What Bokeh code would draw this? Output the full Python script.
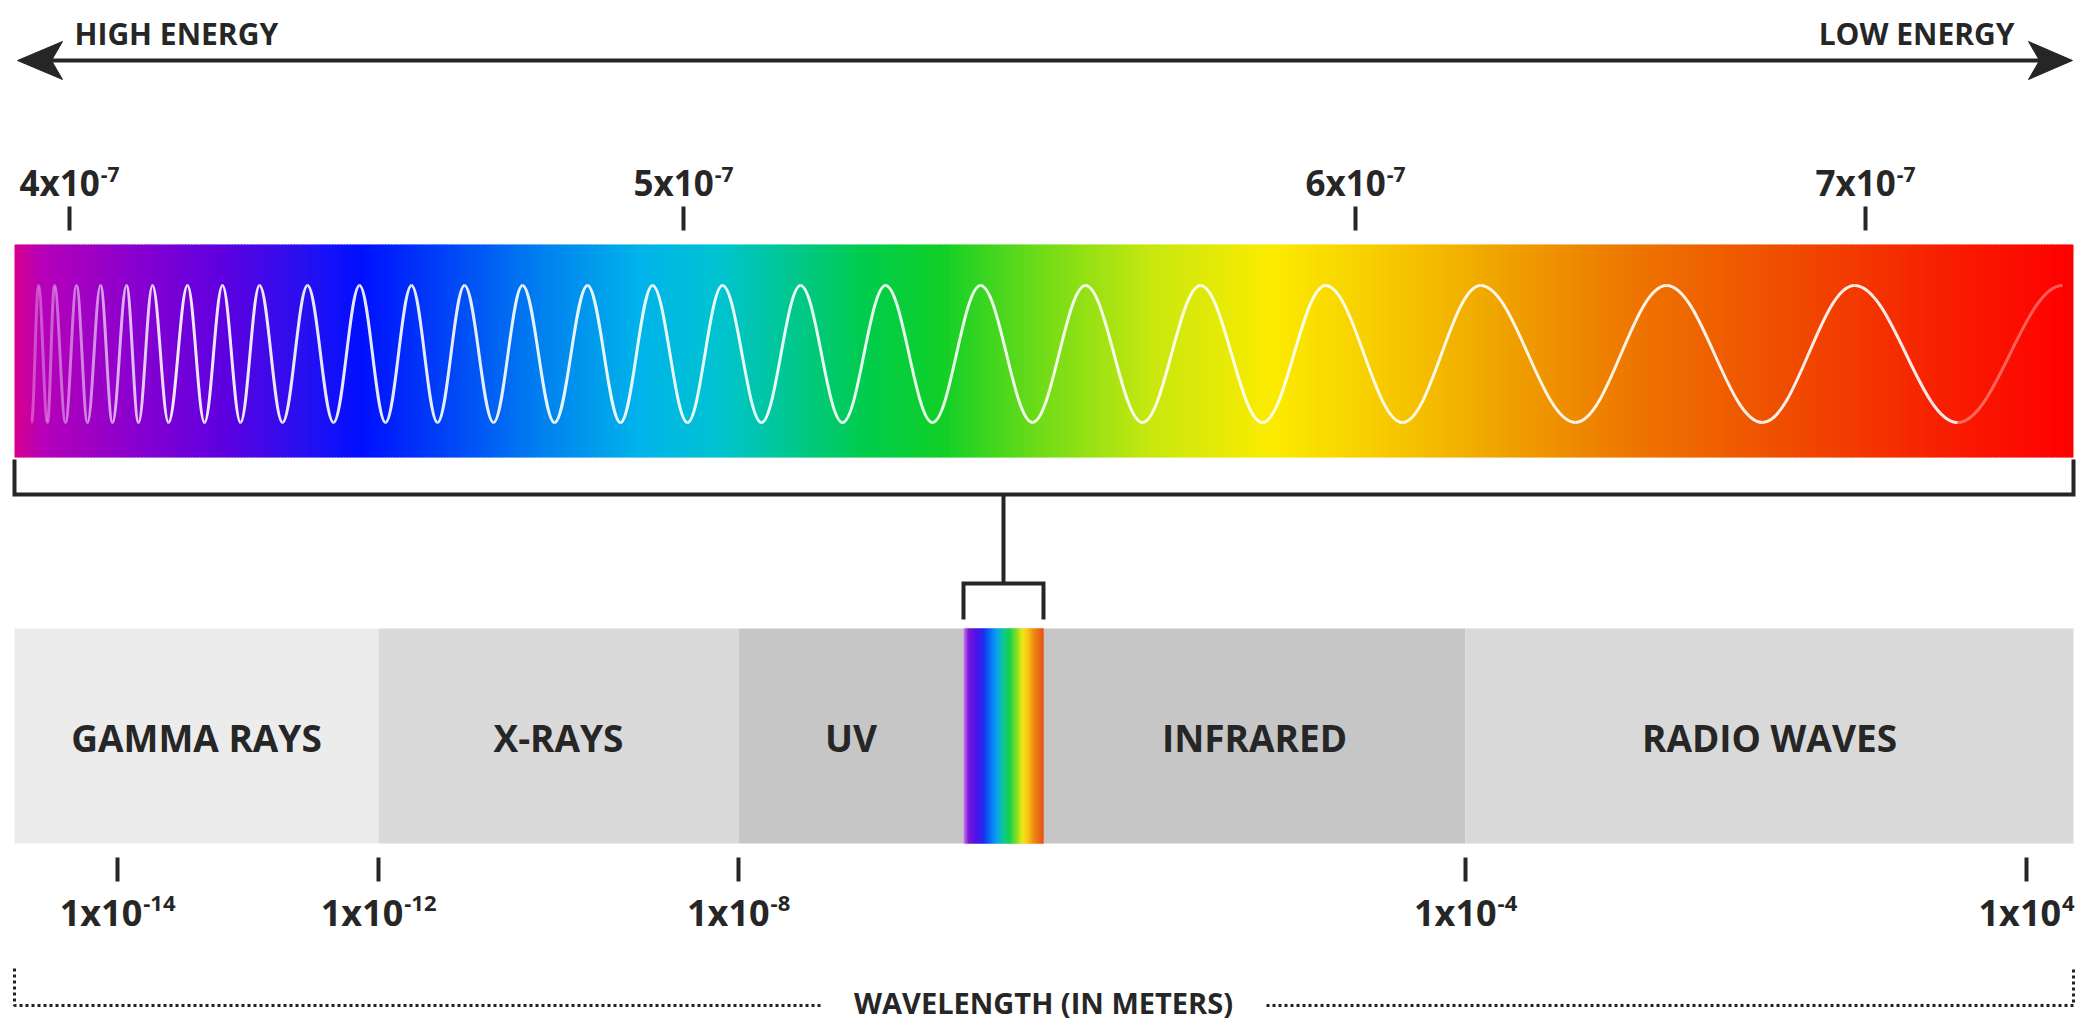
import numpy as np
from bokeh.plotting import figure
from bokeh.models import Range1d, ColumnDataSource
from bokeh.core.properties import value
from bokeh.embed import file_html
from bokeh.resources import INLINE

# ---------------- data ----------------
energy_labels = ["HIGH ENERGY", "LOW ENERGY"]
visible_mantissa = ["4", "5", "6", "7"]
visible_exponent = ["-7", "-7", "-7", "-7"]
band_names = ["GAMMA RAYS", "X-RAYS", "UV", "", "INFRARED", "RADIO WAVES"]
scale_mantissa = ["1", "1", "1", "1", "1"]
scale_exponent = ["-14", "-12", "-8", "-4", "4"]
axis_title = "WAVELENGTH (IN METERS)"
# x of successive troughs / crests of the illustrative wave (starts with a trough)
wave_extrema_x = [31, 38, 47, 54, 65, 76, 87, 100, 112, 126, 138, 152, 168, 187,
                  204, 222, 240, 259, 282, 307, 333, 359, 385, 411, 437, 464,
                  493, 522, 554, 587, 620, 652, 687, 722, 761, 800, 842, 885,
                  932, 980, 1032, 1085, 1142, 1200, 1262, 1325, 1402, 1480,
                  1575, 1666, 1762, 1854, 1957, 2062]

# ---------------- layout / style ----------------
W, H = 2087, 1023
FONT = value("Open Sans")
INK = "#262626"

visible_tick_x = [69, 683, 1355, 1865]
scale_tick_x = [117, 378, 738, 1465, 2026]
band_edges_x = [14, 378, 738, 963, 1043, 1465, 2073]
band_colors = ["#ececec", "#dadada", "#c6c6c6", "#c6c6c6", "#c6c6c6", "#d9d9d9"]

bar_x0, bar_x1, bar_y0, bar_y1 = 14, 2073, 244, 457
box_y0, box_y1 = 628, 843

spectrum_stops = [(14, "#d8008c"), (40, "#b800b8"), (120, "#9000cc"), (220, "#6000e0"),
                  (300, "#2a10f0"), (360, "#0010ff"), (440, "#0040f8"), (540, "#0080f0"),
                  (640, "#00b4ea"), (720, "#00c4d0"), (790, "#00c890"), (860, "#00cc50"),
                  (940, "#10d028"), (1040, "#70dc18"), (1150, "#c8e810"), (1270, "#fcec00"),
                  (1380, "#f8cc00"), (1500, "#f0a400"), (1640, "#ee7400"), (1790, "#f04c00"),
                  (1940, "#f82000"), (2073, "#ff0000")]
strip_stops = [(963, "#d080f0"), (968, "#7418d8"), (976, "#5010e8"), (983, "#1a30f0"),
               (990, "#0870f4"), (996, "#08a0f0"), (1003, "#10c890"), (1009, "#14d050"),
               (1016, "#80e020"), (1022, "#f0e818"), (1028, "#f8c010"), (1033, "#f08c10"),
               (1043, "#e8501a")]


def hex_rgb(h):
    h = h.lstrip("#")
    return [int(h[i:i + 2], 16) for i in (0, 2, 4)]


def gradient_source(stops, x0, x1, n, y0, y1):
    xs = np.linspace(x0, x1, n + 1)
    mids = (xs[:-1] + xs[1:]) / 2
    pos = [s[0] for s in stops]
    rgb = np.array([hex_rgb(s[1]) for s in stops], dtype=float)
    chans = [np.interp(mids, pos, rgb[:, k]) for k in range(3)]
    cols = ["#%02x%02x%02x" % (int(r), int(g), int(b)) for r, g, b in zip(*chans)]
    right = np.minimum(xs[1:] + 1.0, x1)
    return ColumnDataSource(dict(left=xs[:-1], right=right, top=[y0] * n,
                                 bottom=[y1] * n, color=cols))


p = figure(width=W, height=H, output_backend="svg", toolbar_location=None,
           x_range=Range1d(0, W), y_range=Range1d(H, 0),
           x_axis_type=None, y_axis_type=None, min_border=0,
           background_fill_color="white", border_fill_color="white")
p.outline_line_color = None
p.grid.visible = False

# ---- energy arrow ----
arrow_y = 60
p.segment(x0=[50], y0=[arrow_y], x1=[2040], y1=[arrow_y], line_color=INK, line_width=4)
p.patches(xs=[[17, 62, 51, 62], [2072, 2028, 2039, 2028]],
          ys=[[arrow_y, arrow_y - 19, arrow_y, arrow_y + 19]] * 2,
          fill_color=INK, line_color=INK, line_width=1)
p.text(x=[74, 2014], y=[33, 33], text=energy_labels, text_align=["left", "right"],
       text_baseline="middle", text_font=FONT, text_font_style="bold",
       text_font_size="30px", text_color=INK)

# ---- tick label helper (mantissa x 10 + superscript) ----
def sci_labels(ticks, mant, expo, mid_y, size, sup_size):
    base_w = 2.27 * size
    anchors = []
    for e in expo:
        sup_w = sum(0.32 if c == "-" else 0.572 for c in e) * sup_size
        anchors.append((base_w - sup_w) / 2)
    ax = [t + a for t, a in zip(ticks, anchors)]
    p.text(x=ax, y=[mid_y] * len(ax), text=[m + "x10" for m in mant],
           text_align="right", text_baseline="middle", text_font=FONT,
           text_font_style="bold", text_font_size=f"{size}px", text_color=INK)
    p.text(x=[a + 1 for a in ax], y=[mid_y - 0.24 * size] * len(ax), text=expo,
           text_align="left", text_baseline="middle", text_font=FONT,
           text_font_style="bold", text_font_size=f"{sup_size}px", text_color=INK)

# top (visible-light) scale
sci_labels(visible_tick_x, visible_mantissa, visible_exponent, 182, 35, 21)
p.segment(x0=visible_tick_x, y0=[206] * 4, x1=visible_tick_x, y1=[230] * 4,
          line_color=INK, line_width=4)

# ---- visible spectrum bar ----
g = gradient_source(spectrum_stops, bar_x0, bar_x1, 700, bar_y0, bar_y1)
p.quad(left="left", right="right", top="top", bottom="bottom", fill_color="color",
       line_color=None, source=g)

# wave drawn as cubic bezier half-cycles between troughs and crests
ex = np.array(wave_extrema_x, dtype=float)
wave_top, wave_bot = 285, 422
ey = np.array([wave_bot if i % 2 == 0 else wave_top for i in range(len(ex))], dtype=float)
k = 1 - 2 / np.pi
dx = ex[1:] - ex[:-1]
alpha = np.clip(0.3 + 0.6 * (ex[:-1] - 31) / 130.0, 0.3, 0.9)
alpha[-1] = 0.35
p.bezier(x0=ex[:-1], y0=ey[:-1], x1=ex[1:], y1=ey[1:],
         cx0=ex[:-1] + k * dx, cy0=ey[:-1], cx1=ex[1:] - k * dx, cy1=ey[1:],
         line_color="white", line_width=3, line_alpha=alpha)

# big bracket under the bar
br_y = 494
p.multi_line(xs=[[bar_x0, bar_x0, bar_x1, bar_x1]], ys=[[bar_y1 + 2, br_y, br_y, bar_y1 + 2]],
             line_color=INK, line_width=4, line_join="miter")
conn_x = 1003
p.segment(x0=[conn_x], y0=[br_y], x1=[conn_x], y1=[583], line_color=INK, line_width=4)
p.multi_line(xs=[[963, 963, 1043, 1043]], ys=[[619, 583, 583, 619]],
             line_color=INK, line_width=4, line_join="miter")

# ---- bands ----
p.quad(left=band_edges_x[:-1], right=band_edges_x[1:], top=[box_y0] * 6,
       bottom=[box_y1] * 6, fill_color=band_colors, line_color=None)
sg = gradient_source(strip_stops, band_edges_x[3], band_edges_x[4], 80, box_y0, box_y1)
p.quad(left="left", right="right", top="top", bottom="bottom", fill_color="color",
       line_color=None, source=sg)
centers = [(a + b) / 2 for a, b in zip(band_edges_x[:-1], band_edges_x[1:])]
p.text(x=centers, y=[737] * 6, text=band_names, text_align="center",
       text_baseline="middle", text_font=FONT, text_font_style="bold",
       text_font_size="37px", text_color=INK)

# bottom (wavelength) scale
p.segment(x0=scale_tick_x, y0=[857] * 5, x1=scale_tick_x, y1=[881] * 5,
          line_color=INK, line_width=4)
sci_labels(scale_tick_x, scale_mantissa, scale_exponent, 912, 36, 22)

# ---- dotted wavelength bracket ----
dot_y = 1005
p.multi_line(xs=[[14, 14, 822], [1266, 2073, 2073]],
             ys=[[968, dot_y, dot_y], [dot_y, dot_y, 968]],
             line_color="#222222", line_width=3, line_dash="3 3")
p.text(x=[1043], y=[1002], text=[axis_title], text_align="center",
       text_baseline="middle", text_font=FONT, text_font_style="bold",
       text_font_size="29px", text_color=INK)

open("out.html", "w").write(file_html(p, INLINE))
